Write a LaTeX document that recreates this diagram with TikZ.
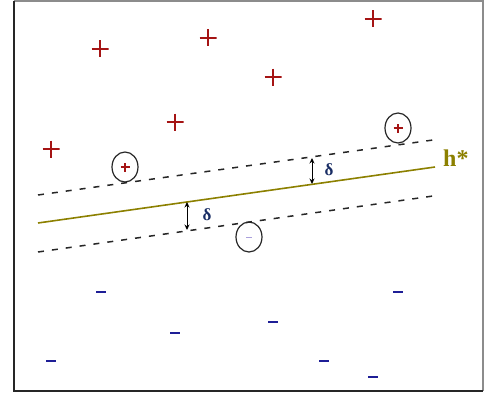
\documentclass[tikz,border=0pt]{standalone}
\usepackage{fontspec}
\newfontfamily\timesfont{Liberation Serif}
\usetikzlibrary{arrows.meta,shapes.geometric}
\definecolor{pluscol}{RGB}{165,20,20}
\definecolor{minuscol}{RGB}{30,30,150}
\definecolor{olivecol}{RGB}{140,128,0}
\definecolor{deltacol}{RGB}{25,45,100}
\definecolor{smallminus}{RGB}{170,160,220}
\tikzset{
  plusmark/.style={minimum size=17pt, inner sep=0pt,
    path picture={\draw[pluscol, line width=2pt]
      (path picture bounding box.north) -- (path picture bounding box.south)
      (path picture bounding box.west) -- (path picture bounding box.east);}},
  minusmark/.style={minimum width=10pt, minimum height=2.6pt, inner sep=0pt, fill=minuscol},
  svplus/.style={ellipse, draw=black!85, line width=1.2pt, minimum width=26pt, minimum height=30pt, inner sep=0pt,
    path picture={\draw[pluscol, line width=1.3pt]
      ([yshift=-4.5pt]path picture bounding box.center) -- ([yshift=4.5pt]path picture bounding box.center)
      ([xshift=-4.5pt]path picture bounding box.center) -- ([xshift=4.5pt]path picture bounding box.center);}},
  svminus/.style={ellipse, draw=black!85, line width=1.2pt, minimum width=26pt, minimum height=30pt, inner sep=0pt,
    path picture={\draw[smallminus, line width=1pt]
      ([xshift=-3pt]path picture bounding box.center) -- ([xshift=3pt]path picture bounding box.center);}},
  margin/.style={black!85, line width=1.5pt, dash pattern=on 6pt off 8pt},
  hyper/.style={olivecol, line width=1.6pt},
  gap/.style={black, line width=1pt, {Stealth[length=5.5pt,width=5pt]}-{Stealth[length=5.5pt,width=5pt]}},
  deltalbl/.style={text=deltacol, inner sep=0pt, font=\timesfont\bfseries\fontsize{17}{17}\selectfont},
}
\begin{document}
\begin{tikzpicture}[x=1pt,y=-1pt]
\useasboundingbox (0,0) rectangle (484,396);
% frame
\draw[black!45, line width=1.5pt] (13.5,1) -- (483,1) -- (483,391);
\draw[black!85, line width=2pt] (13.5,1) -- (13.5,391) -- (483,391);
% positive points
\node[plusmark] (p1) at (100,49) {};
\node[plusmark] (p2) at (208,38) {};
\node[plusmark] (p3) at (373,19) {};
\node[plusmark] (p4) at (273,77) {};
\node[plusmark] (p5) at (175,122) {};
\node[plusmark] (p6) at (51,149) {};
\node[svplus] (sp1) at (125,167) {};
\node[svplus] (sp2) at (398,128) {};
% negative points
\node[minusmark] (m1) at (101,292) {};
\node[minusmark] (m2) at (398,292) {};
\node[minusmark] (m3) at (273,322) {};
\node[minusmark] (m4) at (175,333) {};
\node[minusmark] (m5) at (51,361) {};
\node[minusmark] (m6) at (324,361) {};
\node[minusmark] (m7) at (373,377) {};
\node[svminus] (sm1) at (249,237) {};
% lines
\coordinate (ua) at (38,195);
\coordinate (ub) at (433,140);
\coordinate (ha) at (38,223);
\coordinate (hb) at (435,167);
\coordinate (la) at (38,252);
\coordinate (lb) at (433,196);
\draw[margin] (ua) -- (ub);
\draw[margin] (la) -- (lb);
\draw[hyper] (ha) -- (hb);
\node[text=olivecol, font=\timesfont\bfseries\fontsize{24}{24}\selectfont, anchor=west, inner sep=0pt] (hstar) at (443,158) {h*};
% delta arrows
\coordinate (d1a) at (312,158);
\coordinate (d1b) at (312,184);
\coordinate (d2a) at (187,202);
\coordinate (d2b) at (187,230);
\draw[gap] (d1a) -- (d1b);
\draw[gap] (d2a) -- (d2b);
\node[deltalbl] (del1) at (329,170) {δ};
\node[deltalbl] (del2) at (207,215) {δ};
\end{tikzpicture}
\end{document}
